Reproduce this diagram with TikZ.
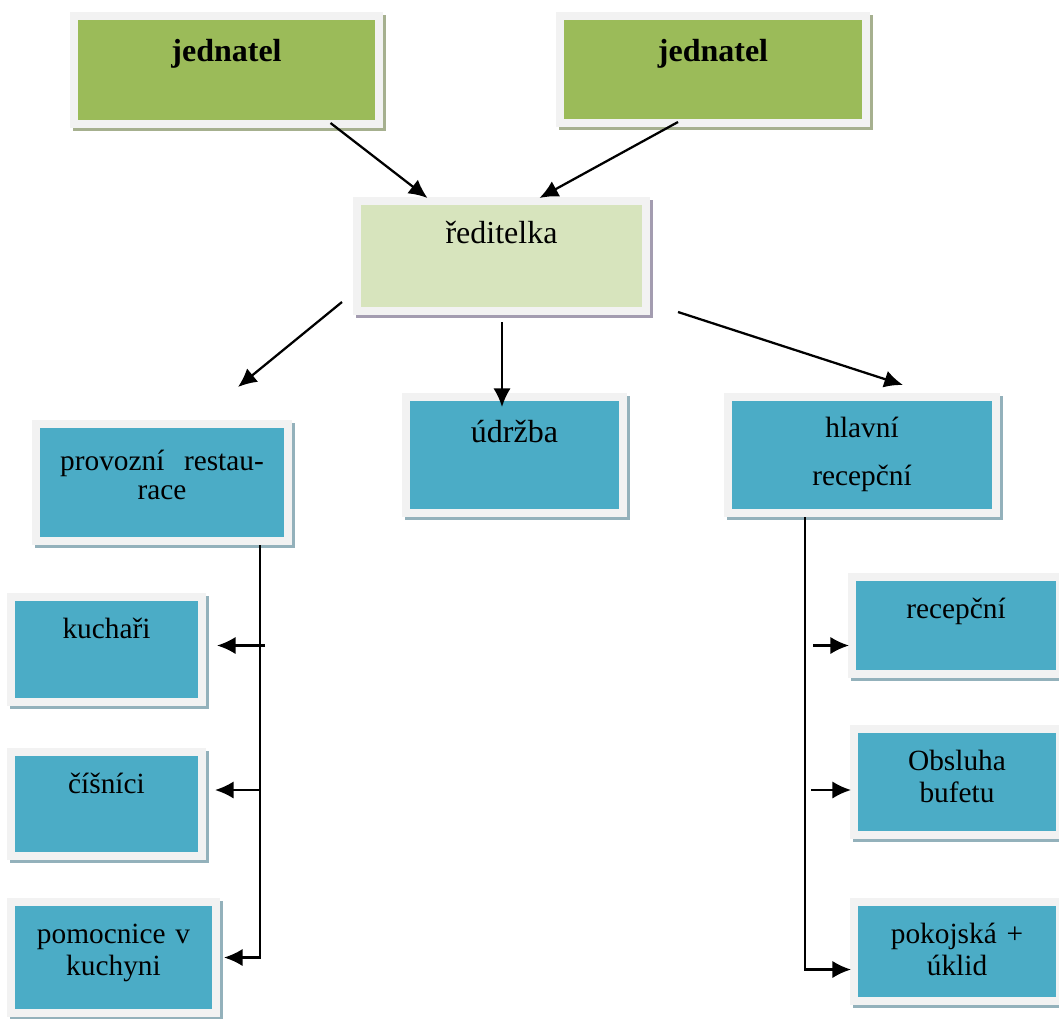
\documentclass[tikz,border=0pt]{standalone}
\usepackage{fontspec}
\setmainfont{Liberation Serif}
\usepackage{tikz}
\usetikzlibrary{arrows.meta,positioning,calc}
\definecolor{framegray}{RGB}{242,242,242}
\definecolor{bossgreen}{RGB}{155,187,89}
\definecolor{bossshadow}{RGB}{166,176,143}
\definecolor{headgreen}{RGB}{215,228,189}
\definecolor{headshadow}{RGB}{163,156,176}
\definecolor{staffblue}{RGB}{75,172,198}
\definecolor{staffshadow}{RGB}{147,177,187}

\begin{document}
\begin{tikzpicture}[x=0.75pt, y=-0.75pt,
        box/.style={rectangle, draw=framegray, line width=6pt, inner sep=0pt, outer sep=0pt, anchor=north west, align=center},
        dropped/.style={preaction={draw=#1, fill=#1, line width=6pt, transform canvas={xshift=2.25pt, yshift=-2.25pt}}},
        boss/.style={box, fill=bossgreen, dropped=bossshadow, font=\fontsize{24}{28}\selectfont\bfseries},
        head/.style={box, fill=headgreen, dropped=headshadow, font=\fontsize{24}{28}\selectfont},
        staff/.style={box, fill=staffblue, dropped=staffshadow, font=\fontsize{22}{24}\selectfont},
        arr/.style={-{Latex[length=14pt,width=13pt]}, line width=1.7pt}]
    \useasboundingbox (0,0) rectangle (1059,1018);

    \node [boss, text width=228.75pt, text height=33.75pt, text depth=47.25pt] (boss1) at (74,16) {jednatel};
    \node [boss, text width=229.5pt, text height=33.75pt, text depth=46.5pt] (boss2) at (560,16) {jednatel};
    \node [head, text width=216.75pt, text height=31.5pt, text depth=51pt] (dir) at (357,201) {ředitelka};

    \node [staff, text width=189pt, text height=34.5pt, text depth=53.25pt] (rest) at (36,424) {provozní~~restau-\\[-2pt]race};
    \node [staff, font=\fontsize{24}{28}\selectfont, text width=162.75pt, text height=33.75pt, text depth=53.25pt] (maint) at (406,397) {údržba};
    \node [staff, text width=201pt, text height=30pt, text depth=57pt] (recep) at (728,397) {hlavní\\[12pt]recepční};

    \node [staff, text width=143.25pt, text height=30.75pt, text depth=48pt] (cook) at (11,597) {kuchaři};
    \node [staff, text width=143.25pt, text height=30.75pt, text depth=47.25pt] (wait) at (11,752) {číšníci};
    \node [staff, text width=153.75pt, text height=30.75pt, text depth=52.5pt] (help) at (11,902) {pomocnice v\\kuchyni};

    \node [staff, text width=156pt, text height=30.75pt, text depth=42pt] (desk) at (852,577) {recepční};
    \node [staff, text width=154.5pt, text height=30.75pt, text depth=48.75pt] (buff) at (854,729) {Obsluha\\bufetu};
    \node [staff, text width=154.5pt, text height=30.75pt, text depth=43.5pt] (room) at (854,902) {pokojská +\\úklid};

    \coordinate (lbus) at ($(rest.south)+(98,4)$);
    \coordinate (rbus) at ($(recep.south)+(-57,4)$);

    \draw [arr] ($(boss1.south)+(104,-1)$) -- ($(dir.north)+(-74,-3)$);
    \draw [arr] ($(boss2.south)+(-35,-1)$) -- ($(dir.north)+(38,-3)$);
    \draw [arr] ($(dir.west)+(-15,46)$) -- ($(rest.north)+(76,-37)$);
    \draw [arr] ($(dir.south)+(0.5,11)$) -- ($(maint.north)+(-12.5,10)$);
    \draw [arr] ($(dir.south east)+(32,1)$) -- ($(recep.north)+(41,-12)$);

    \draw [arr] (lbus) |- ($(help.east)+(8,0)$);
    \draw [arr] ($(cook.east)+(63,-4)$) -- ($(cook.east)+(15,-4)$);
    \draw [arr] ($(wait.east)+(58,-14)$) -- ($(wait.east)+(13,-14)$);

    \draw [arr] (rbus) |- ($(room.west)+(-3,18)$);
    \draw [arr] ($(desk.west)+(-39,20)$) -- ($(desk.west)+(-3,20)$);
    \draw [arr] ($(buff.west)+(-43,8)$) -- ($(buff.west)+(-3,8)$);
\end{tikzpicture}
\end{document}
